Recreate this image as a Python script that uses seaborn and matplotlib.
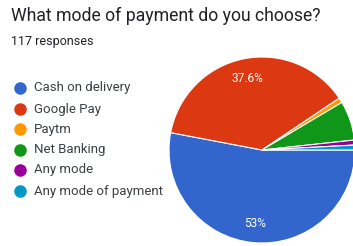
import matplotlib
matplotlib.use("Agg")
import matplotlib.pyplot as plt
import seaborn as sns
from matplotlib.lines import Line2D

title = "What mode of payment do you choose?"
subtitle = "117 responses"
categories = ["Cash on delivery", "Google Pay", "Paytm", "Net Banking", "Any mode", "Any mode of payment"]
counts = [62, 44, 1, 8, 1, 1]
colors = ["#3366cc", "#dc3912", "#ff9900", "#109618", "#990099", "#0099c6"]

sns.set_theme(style="white")
plt.rcParams['font.family'] = ['Roboto', 'DejaVu Sans']

fig = plt.figure(figsize=(3.53, 2.46), dpi=100)
fig.patch.set_facecolor("white")

fig.text(11/353, 1 - 16/246, title, fontsize=12.7, color="#202124", va="center", ha="left")
fig.text(11/353, 1 - 42/246, subtitle, fontsize=9, color="#202124", va="center", ha="left")

ax = fig.add_axes([169/353, 3/246, 186/353, 186/246])

def fmt(p):
    if p < 10:
        return ""
    s = f"{p:.1f}".rstrip("0").rstrip(".")
    return s + "%"

wedges, texts, autotexts = ax.pie(
    counts, colors=colors, startangle=0, counterclock=False,
    autopct=fmt, pctdistance=0.79,
    wedgeprops=dict(edgecolor="white", linewidth=0.8),
    textprops=dict(color="white", fontsize=8.5),
)
ax.set_xlim(-1, 1)
ax.set_ylim(-1, 1)
ax.set_aspect("equal")
ax.axis("off")

ys = [88, 109, 129, 150, 170, 191]
for cat, col, y in zip(categories, colors, ys):
    yf = 1 - y/246
    fig.add_artist(Line2D([20/353], [yf], marker="o", markersize=8, color=col,
                          linestyle="none", transform=fig.transFigure))
    fig.text(34/353, yf, cat, fontsize=9.5, color="#3c4043", va="center", ha="left")

fig.savefig("out.png", dpi=100, facecolor="white")
